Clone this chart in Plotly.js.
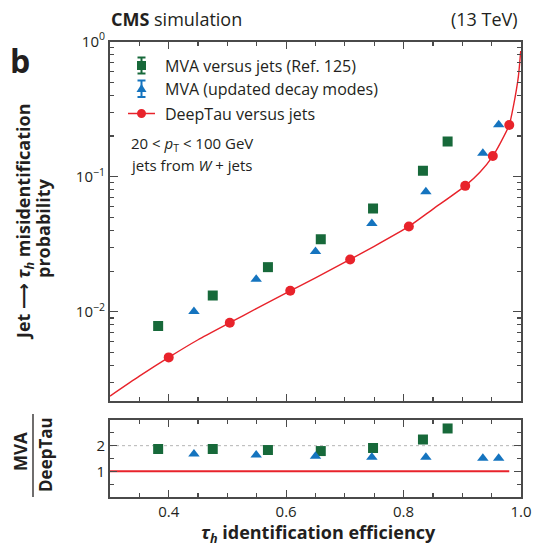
<!DOCTYPE html>
<html>
<head>
<meta charset="utf-8">
<script src="https://cdn.plot.ly/plotly-3.0.1.min.js"></script>
<style>html,body{margin:0;padding:0;background:#fff;}#chart{width:534px;height:546px;}</style>
</head>
<body>
<div id="chart"></div>
<script>
// ---------- data ----------
const deepTauEff = [0.400, 0.504, 0.607, 0.709, 0.809, 0.905, 0.952, 0.980];
const deepTauMis = [0.0046, 0.0083, 0.0143, 0.0244, 0.0428, 0.0855, 0.142, 0.241];

const deepTauCurveEff = [0.300, 0.350, 0.400, 0.450, 0.504, 0.550, 0.607, 0.650, 0.709, 0.750, 0.809, 0.850, 0.905, 0.930, 0.952, 0.965, 0.980, 0.987, 0.9955, 0.9995];
const deepTauCurveMis = [0.00238, 0.00334, 0.0046, 0.00621, 0.0083, 0.0106, 0.0143, 0.01786, 0.0244, 0.0305, 0.0428, 0.0575, 0.0855, 0.1076, 0.142, 0.178, 0.241, 0.331, 0.55, 0.85];

const mvaRefEff = [0.382, 0.475, 0.569, 0.659, 0.748, 0.833, 0.875];
const mvaRefMis = [0.00785, 0.0132, 0.0214, 0.0344, 0.0581, 0.1107, 0.182];

const mvaNewEff = [0.443, 0.549, 0.650, 0.746, 0.838, 0.935, 0.962];
const mvaNewMis = [0.01005, 0.0174, 0.0279, 0.0450, 0.0772, 0.149, 0.242];

const ratioRef = [1.87, 1.87, 1.83, 1.79, 1.91, 2.24, 2.67];
const ratioNew = [1.68, 1.64, 1.59, 1.55, 1.55, 1.51, 1.51];

const unityEff = [0.30, 0.98];
const unityVal = [1, 1];

const xTickVals = [0.4, 0.6, 0.8, 1.0];
const xTickText = ['0.4', '0.6', '0.8', '1.0'];
const yTickVals = [0.01, 0.1, 1];
const yTickText = ['10<sup>−2</sup>', '10<sup>−1</sup>', '10<sup>0</sup>'];
const yMinorVals = [0.003,0.004,0.005,0.006,0.007,0.008,0.009,0.02,0.03,0.04,0.05,0.06,0.07,0.08,0.09,0.2,0.3,0.4,0.5,0.6,0.7,0.8,0.9];
const rTickVals = [1, 2];
const rTickText = ['1', '2'];

// ---------- styling ----------
const W = 534, H = 546;
const PX = v => v / W;
const PY = v => 1 - v / H;
const GREEN = '#17693a', BLUE = '#1574bf', RED = '#e8232b', AX = '#4a4a4a', TXT = '#231f20';
const FONT = 'Open Sans, sans-serif';

const traces = [
  {x: deepTauCurveEff, y: deepTauCurveMis, xaxis: 'x', yaxis: 'y', mode: 'lines',
   line: {color: RED, width: 1.4, shape: 'spline', smoothing: 0.6}, hoverinfo: 'skip'},
  {x: mvaRefEff, y: mvaRefMis, xaxis: 'x', yaxis: 'y', mode: 'markers',
   marker: {symbol: 'square', size: 10, color: GREEN}},
  {x: mvaNewEff, y: mvaNewMis, xaxis: 'x', yaxis: 'y', mode: 'markers',
   marker: {symbol: 'triangle-up', size: 10, color: BLUE}},
  {x: deepTauEff, y: deepTauMis, xaxis: 'x', yaxis: 'y', mode: 'markers',
   marker: {symbol: 'circle', size: 10, color: RED}},
  {x: unityEff, y: unityVal, xaxis: 'x2', yaxis: 'y2', mode: 'lines',
   line: {color: RED, width: 2}},
  {x: mvaRefEff, y: ratioRef, xaxis: 'x2', yaxis: 'y2', mode: 'markers',
   marker: {symbol: 'square', size: 10, color: GREEN}},
  {x: mvaNewEff, y: ratioNew, xaxis: 'x2', yaxis: 'y2', mode: 'markers',
   marker: {symbol: 'triangle-up', size: 10, color: BLUE}}
];

const axBase = {
  showline: true, linecolor: AX, linewidth: 2, mirror: 'ticks',
  ticks: 'inside', tickcolor: AX, tickwidth: 1.2, showgrid: false, zeroline: false,
  tickfont: {family: FONT, size: 15, color: TXT}
};

const xDom = [PX(110), PX(521)];

const layout = {
  width: W, height: H,
  margin: {l: 0, r: 0, t: 0, b: 0},
  paper_bgcolor: '#fff', plot_bgcolor: '#fff',
  showlegend: false,
  font: {family: FONT, color: TXT},
  xaxis: Object.assign({}, axBase, {
    domain: xDom, anchor: 'y', range: [0.3, 1.0], tickmode: 'array', tickvals: xTickVals,
    showticklabels: false, ticklen: 7,
    minor: {dtick: 0.05, tick0: 0, ticks: 'inside', ticklen: 4, tickcolor: AX, tickwidth: 1.2}
  }),
  yaxis: Object.assign({}, axBase, {
    domain: [PY(401), PY(41.5)], anchor: 'x', type: 'log', range: [-2.66, 0],
    tickmode: 'array', tickvals: yTickVals, ticktext: yTickText, ticklen: 8,
    minor: {tickmode: 'array', tickvals: yMinorVals, ticks: 'inside', ticklen: 4, tickcolor: AX, tickwidth: 1.2}
  }),
  xaxis2: Object.assign({}, axBase, {
    domain: xDom, anchor: 'y2', range: [0.3, 1.0], tickmode: 'array', tickvals: xTickVals, ticktext: xTickText,
    ticklen: 7,
    minor: {dtick: 0.05, tick0: 0, ticks: 'inside', ticklen: 4, tickcolor: AX, tickwidth: 1.2}
  }),
  yaxis2: Object.assign({}, axBase, {
    domain: [PY(497), PY(420)], anchor: 'x2', range: [0, 3],
    tickmode: 'array', tickvals: rTickVals, ticktext: rTickText, ticklen: 7,
    minor: {dtick: 0.5, tick0: 0, ticks: 'inside', ticklen: 4, tickcolor: AX, tickwidth: 1.2}
  }),
  shapes: [
    {type: 'line', xref: 'x2', yref: 'y2', x0: 0.3, x1: 1.0, y0: 2, y1: 2, line: {color: '#b5b5b5', width: 1, dash: 'dot'}, layer: 'below'},
    // legend icons
    {type: 'line', xref: 'paper', yref: 'paper', x0: PX(141.5), x1: PX(141.5), y0: PY(57.5), y1: PY(73.5), line: {color: GREEN, width: 2}},
    {type: 'line', xref: 'paper', yref: 'paper', x0: PX(137.5), x1: PX(145.5), y0: PY(57.5), y1: PY(57.5), line: {color: GREEN, width: 2}},
    {type: 'line', xref: 'paper', yref: 'paper', x0: PX(137.5), x1: PX(145.5), y0: PY(73.5), y1: PY(73.5), line: {color: GREEN, width: 2}},
    {type: 'rect', xref: 'paper', yref: 'paper', x0: PX(137), x1: PX(146), y0: PY(61), y1: PY(70), fillcolor: GREEN, line: {width: 0}},
    {type: 'line', xref: 'paper', yref: 'paper', x0: PX(141.5), x1: PX(141.5), y0: PY(80.5), y1: PY(97), line: {color: BLUE, width: 2}},
    {type: 'line', xref: 'paper', yref: 'paper', x0: PX(137.5), x1: PX(145.5), y0: PY(80.5), y1: PY(80.5), line: {color: BLUE, width: 2}},
    {type: 'line', xref: 'paper', yref: 'paper', x0: PX(137.5), x1: PX(145.5), y0: PY(97), y1: PY(97), line: {color: BLUE, width: 2}},
    {type: 'path', xref: 'paper', yref: 'paper',
     path: 'M ' + PX(136.5) + ' ' + PY(92) + ' L ' + PX(146.5) + ' ' + PY(92) + ' L ' + PX(141.5) + ' ' + PY(84) + ' Z',
     fillcolor: BLUE, line: {width: 0}},
    {type: 'line', xref: 'paper', yref: 'paper', x0: PX(128), x1: PX(155), y0: PY(113.5), y1: PY(113.5), line: {color: RED, width: 1.5}},
    {type: 'circle', xref: 'paper', yref: 'paper', x0: PX(137), x1: PX(146), y0: PY(118), y1: PY(109), fillcolor: RED, line: {width: 0}},
    // fraction bar of lower y title
    {type: 'line', xref: 'paper', yref: 'paper', x0: PX(33), x1: PX(33), y0: PY(414), y1: PY(497), line: {color: TXT, width: 1.3}}
  ],
  annotations: [
    {xref: 'paper', yref: 'paper', x: PX(109), y: PY(19), xanchor: 'left', yanchor: 'middle', showarrow: false,
     text: '<b>CMS</b> simulation', font: {size: 18, family: FONT, color: TXT}},
    {xref: 'paper', yref: 'paper', x: PX(520), y: PY(19), xanchor: 'right', yanchor: 'middle', showarrow: false,
     text: '(13 TeV)', font: {size: 18, family: FONT, color: TXT}},
    {xref: 'paper', yref: 'paper', x: PX(20), y: PY(60), xanchor: 'center', yanchor: 'middle', showarrow: false,
     text: '<b>b</b>', font: {size: 32, family: FONT, color: TXT}},
    {xref: 'paper', yref: 'paper', x: PX(163), y: PY(65.5), xanchor: 'left', yanchor: 'middle', showarrow: false,
     text: 'MVA versus jets (Ref. 125)', font: {size: 16, family: FONT, color: TXT}},
    {xref: 'paper', yref: 'paper', x: PX(163), y: PY(89.5), xanchor: 'left', yanchor: 'middle', showarrow: false,
     text: 'MVA (updated decay modes)', font: {size: 16, family: FONT, color: TXT}},
    {xref: 'paper', yref: 'paper', x: PX(163), y: PY(113.5), xanchor: 'left', yanchor: 'middle', showarrow: false,
     text: 'DeepTau versus jets', font: {size: 16, family: FONT, color: TXT}},
    {xref: 'paper', yref: 'paper', x: PX(129), y: PY(144), xanchor: 'left', yanchor: 'middle', showarrow: false,
     text: '20 < <i>p</i><sub>T</sub> < 100 GeV', font: {size: 15, family: FONT, color: TXT}},
    {xref: 'paper', yref: 'paper', x: PX(129), y: PY(165), xanchor: 'left', yanchor: 'middle', showarrow: false,
     text: 'jets from <i>W</i> + jets', font: {size: 15, family: FONT, color: TXT}},
    {xref: 'paper', yref: 'paper', x: PX(24), y: PY(222), xanchor: 'center', yanchor: 'middle', showarrow: false, textangle: -90,
     text: '<b>Jet <span style="font-family:DejaVu Sans">⟶</span> <i>τ<sub>h</sub></i> misidentification</b>', font: {size: 18, family: FONT, color: TXT}},
    {xref: 'paper', yref: 'paper', x: PX(43), y: PY(228), xanchor: 'center', yanchor: 'middle', showarrow: false, textangle: -90,
     text: '<b>probability</b>', font: {size: 18, family: FONT, color: TXT}},
    {xref: 'paper', yref: 'paper', x: PX(21), y: PY(452), xanchor: 'center', yanchor: 'middle', showarrow: false, textangle: -90,
     text: '<b>MVA</b>', font: {size: 17, family: FONT, color: TXT}},
    {xref: 'paper', yref: 'paper', x: PX(45), y: PY(455), xanchor: 'center', yanchor: 'middle', showarrow: false, textangle: -90,
     text: '<b>DeepTau</b>', font: {size: 17, family: FONT, color: TXT}},
    {xref: 'paper', yref: 'paper', x: PX(318), y: PY(533), xanchor: 'center', yanchor: 'middle', showarrow: false,
     text: '<b><i>τ<sub>h</sub></i> identification efficiency</b>', font: {size: 18, family: FONT, color: TXT}}
  ]
};

Plotly.newPlot('chart', traces, layout, {displayModeBar: false, staticPlot: true});
</script>
</body>
</html>
